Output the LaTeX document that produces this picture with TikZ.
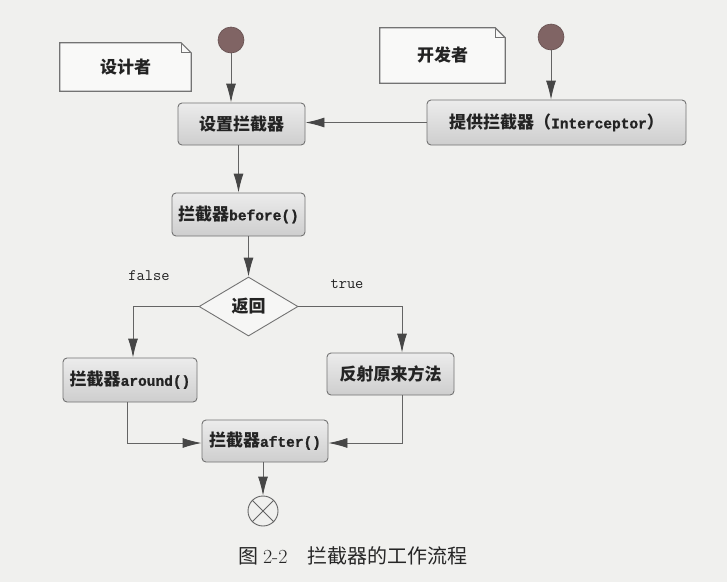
\documentclass[tikz,border=0pt]{standalone}
\usepackage{fontspec}
\setmainfont{Noto Sans CJK SC}
\newfontfamily\lmr{Latin Modern Roman}
\newfontfamily\monob[FakeBold=1.2]{Liberation Mono}
\newfontfamily\mono{Latin Modern Mono}
\usetikzlibrary{shapes.geometric,arrows.meta}
\definecolor{bgc}{RGB}{240,240,238}
\definecolor{linec}{RGB}{100,100,100}
\definecolor{tipc}{RGB}{70,70,70}
\definecolor{boxline}{RGB}{115,115,115}
\definecolor{boxtop}{RGB}{236,236,236}
\definecolor{boxbot}{RGB}{206,206,206}
\definecolor{txt}{RGB}{35,35,35}
\definecolor{startc}{RGB}{128,100,100}
\begin{document}
\begin{tikzpicture}[x=1pt,y=-1pt,
  line/.style={draw=linec, line width=0.9pt},
  arr/.style={line, -{Latex[length=19pt,width=10pt,color=tipc]}},
  box/.style={rectangle, rounded corners=4pt, draw=boxline, line width=0.9pt,
    top color=boxtop, bottom color=boxbot, text=txt, inner sep=0pt,
    font=\fontsize{17}{19}\selectfont\bfseries},
  notebox/.style={rectangle, inner sep=0pt, text=txt,
    font=\fontsize{17}{19}\selectfont\bfseries},
  noteline/.style={draw=boxline, line width=1.2pt, fill=white!60!bgc},
  startnode/.style={circle, fill=startc, draw=startc!80!black, line width=0.6pt, minimum size=26pt, inner sep=0pt},
  decision/.style={diamond, draw=boxline, line width=0.9pt, fill=white!40!bgc, inner sep=0pt,
    text=txt, font=\fontsize{17}{19}\selectfont\bfseries},
  finalnode/.style={circle, draw=linec, line width=0.9pt, minimum size=30pt, inner sep=0pt},
  guard/.style={text=txt, font=\fontsize{16}{18}\selectfont\mono},
  caption/.style={text=black!85, font=\fontsize{20}{23}\selectfont},
  lat/.style={}
]
\fill[bgc] (0,0) rectangle (727,582);
\useasboundingbox (0,0) rectangle (727,582);

% notes
\node[notebox, minimum width=131pt, minimum height=48pt] (n1) at (125.5,67) {};
\draw[noteline] (n1.south west) -- (n1.north west) -- ([xshift=-10pt]n1.north east)
  -- ([yshift=-10pt]n1.north east) -- (n1.south east) -- cycle;
\draw[draw=boxline, line width=0.8pt] ([xshift=-10pt]n1.north east) |- ([yshift=-10pt]n1.north east);
\node[notebox] at (n1) {设计者};

\node[notebox, minimum width=125pt, minimum height=55pt] (n2) at (442.5,55.5) {};
\draw[noteline] (n2.south west) -- (n2.north west) -- ([xshift=-10pt]n2.north east)
  -- ([yshift=-10pt]n2.north east) -- (n2.south east) -- cycle;
\draw[draw=boxline, line width=0.8pt] ([xshift=-10pt]n2.north east) |- ([yshift=-10pt]n2.north east);
\node[notebox] at (n2) {开发者};

% start nodes
\node[startnode] (s1) at (231,40) {};
\node[startnode] (s2) at (551,37) {};

% actions
\node[box, minimum width=127pt, minimum height=42pt] (set) at (241.5,124) {设置拦截器};
\node[box, minimum width=259pt, minimum height=45pt] (prov) at (556.5,122.5)
  {提供拦截器（{\fontsize{14.5}{18}\monob Interceptor}）};
\node[box, minimum width=133pt, minimum height=43pt] (bef) at (238.5,214.5)
  {拦截器{\fontsize{14.5}{18}\monob before()}};
\node[decision, minimum width=99pt, minimum height=59pt] (dia) at (248.5,306.5) {返回};
\node[box, minimum width=134pt, minimum height=44pt] (aro) at (130,380)
  {拦截器{\fontsize{14.5}{18}\monob around()}};
\node[box, minimum width=127pt, minimum height=42pt] (refl) at (390.5,374) {反射原来方法};
\node[box, minimum width=126pt, minimum height=42pt] (aft) at (265,441)
  {拦截器{\fontsize{14.5}{18}\monob after()}};
\node[finalnode] (fin) at (263,511) {};
\draw[line] (fin.north west) -- (fin.south east) (fin.north east) -- (fin.south west);

% guards
\node[guard] (gf) at (149,276) {false};
\node[guard] (gt) at (347,284) {true};

% connectors
\draw[arr] (s1) -- (s1 |- set.north);
\draw[arr] (s2) -- (s2 |- prov.north);
\draw[arr] (prov.west) -- (prov.west -| set.east);
\draw[arr] (bef.north |- set.south) -- (bef.north);
\draw[arr] (dia.north |- bef.south) -- (dia.north);
\draw[arr] (dia.west) -| ([xshift=3pt]aro.north);
\draw[arr] (dia.east) -| ([xshift=11.5pt]refl.north);
\draw[arr] ([xshift=-3pt]aro.south) |- ([yshift=-2pt]aft.west);
\draw[arr] ([xshift=11.5pt]refl.south) |- ([yshift=-2pt]aft.east);
\draw[arr] (fin.north |- aft.south) -- (fin.north);

% caption
\node[caption] (cap) at (353,556) {图 {\lmr 2-2}\quad 拦截器的工作流程};
\end{tikzpicture}
\end{document}
